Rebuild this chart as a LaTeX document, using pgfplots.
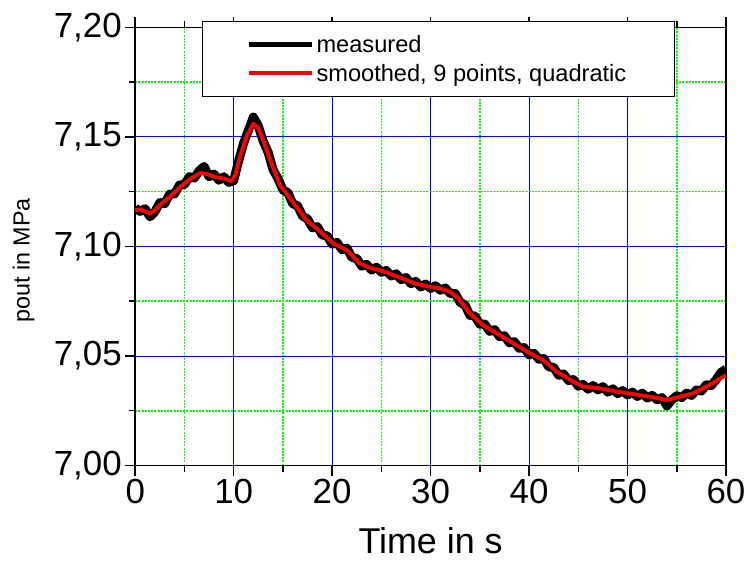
\documentclass[border=0pt]{standalone}
\usepackage{pgfplots}
\pgfplotsset{compat=1.18}
\usepackage{fontspec}
\setmainfont{Liberation Sans}
\definecolor{mygreen}{RGB}{0,255,0}
\begin{document}
\begin{tikzpicture}
\begin{axis}[
  at={(0,0)}, anchor=south west,
  scale only axis, width=590.8bp, height=438.2bp,
  xmin=0, xmax=60, ymin=7.0, ymax=7.2,
  xtick={0,10,...,60}, ytick={7.00,7.05,7.10,7.15,7.20},
  minor x tick num=1, minor y tick num=1,
  xtick pos=both, ytick pos=left,
  tick align=outside,
  major tick length=10bp, minor tick length=6bp,
  axis line style={line width=1.5bp},
  every tick/.style={line width=1.5bp},
  grid=both,
  major grid style={blue, line width=0.8bp, solid},
  minor grid style={mygreen, line width=1.6bp, dash pattern=on 2bp off 1.2bp},
  /pgf/number format/assume math mode=true,
  tick label style={font=\fontsize{35}{40}\selectfont},
  yticklabel style={/pgf/number format/.cd, fixed, fixed zerofill, precision=2, use comma},
  xticklabel style={/pgf/number format/.cd, fixed, precision=0},
  xlabel={Time in s},
  ylabel={pout in MPa},
  every axis x label/.style={at={(axis description cs:0.5,-0.1997)}, anchor=base, font=\fontsize{36}{42}\selectfont},
  every axis y label/.style={at={(axis description cs:-0.189,0.468)}, rotate=90, anchor=center, font=\fontsize{23.4}{28}\selectfont},
  legend style={at={(axis description cs:0.113,1.015)}, anchor=north west,
    draw=black, line width=1.2bp, fill=white,
    font=\fontsize{23.7}{28}\selectfont,
    inner xsep=31bp, inner ysep=12bp, row sep=6bp,
    cells={anchor=west}},
  legend image code/.code={\path (0bp,0bp); \draw[#1] (13bp,0bp) -- (76bp,0bp);},
]
\addplot[black, line width=9bp, line join=round, forget plot] coordinates {
(0.0,7.1175)(0.5,7.1160)(1.0,7.1172)(1.5,7.1135)(2.0,7.1158)(2.5,7.1200)(3.0,7.1195)(3.5,7.1238)
(4.0,7.1240)(4.5,7.1280)(5.0,7.1282)(5.5,7.1318)(6.0,7.1312)(6.5,7.1345)(7.0,7.1365)(7.5,7.1318)
(8.0,7.1330)(8.5,7.1302)(9.0,7.1318)(9.5,7.1292)(10.0,7.1300)(10.5,7.1390)(11.0,7.1470)(11.5,7.1530)
(12.0,7.1590)(12.5,7.1550)(13.0,7.1480)(13.5,7.1430)(14.0,7.1350)(14.5,7.1310)(15.0,7.1258)(15.5,7.1245)
(16.0,7.1195)(16.5,7.1185)(17.0,7.1138)(17.5,7.1125)(18.0,7.1085)(18.5,7.1090)(19.0,7.1052)(19.5,7.1048)
(20.0,7.1010)(20.5,7.1018)(21.0,7.0985)(21.5,7.0992)(22.0,7.0950)(22.5,7.0945)(23.0,7.0910)(23.5,7.0918)
(24.0,7.0892)(24.5,7.0905)(25.0,7.0882)(25.5,7.0890)(26.0,7.0865)(26.5,7.0875)(27.0,7.0848)(27.5,7.0858)
(28.0,7.0830)(28.5,7.0840)(29.0,7.0815)(29.5,7.0828)(30.0,7.0808)(30.5,7.0820)(31.0,7.0800)(31.5,7.0810)
(32.0,7.0785)(32.5,7.0785)(33.0,7.0745)(33.5,7.0732)(34.0,7.0685)(34.5,7.0682)(35.0,7.0645)(35.5,7.0645)
(36.0,7.0612)(36.5,7.0620)(37.0,7.0588)(37.5,7.0592)(38.0,7.0560)(38.5,7.0565)(39.0,7.0535)(39.5,7.0538)
(40.0,7.0505)(40.5,7.0512)(41.0,7.0485)(41.5,7.0488)(42.0,7.0450)(42.5,7.0448)(43.0,7.0412)(43.5,7.0418)
(44.0,7.0388)(44.5,7.0392)(45.0,7.0362)(45.5,7.0370)(46.0,7.0348)(46.5,7.0365)(47.0,7.0345)(47.5,7.0360)
(48.0,7.0335)(48.5,7.0350)(49.0,7.0328)(49.5,7.0342)(50.0,7.0322)(50.5,7.0335)(51.0,7.0315)(51.5,7.0330)
(52.0,7.0308)(52.5,7.0320)(53.0,7.0300)(53.5,7.0310)(54.0,7.0272)(54.5,7.0300)(55.0,7.0318)(55.5,7.0310)
(56.0,7.0330)(56.5,7.0320)(57.0,7.0345)(57.5,7.0340)(58.0,7.0368)(58.5,7.0365)(59.0,7.0392)(59.5,7.0425)
(60.0,7.0440)
};
\addlegendimage{black, line width=5bp}
\addlegendentry{measured}
\addplot[red, line width=3.8bp, line join=round] coordinates {
(0,7.1165)(0.5,7.1170)(1.0,7.1160)(1.5,7.1150)(2.0,7.1165)(2.85,7.1203)(3.5,7.1225)(4.55,7.1270)
(5.5,7.1305)(6.6,7.1335)(7.3,7.1330)(8.27,7.1315)(9.0,7.1310)(9.8,7.1298)(10.2,7.1330)(10.64,7.1409)
(11.3,7.1500)(12.0,7.1560)(12.5,7.1540)(13.0,7.1485)(13.5,7.1420)(14.0,7.1360)(14.7,7.1280)(15.3,7.1245)
(16.05,7.1200)(17.4,7.1120)(18.8,7.1067)(20.1,7.1014)(21.5,7.0983)(22.8,7.0922)(24.0,7.0900)(24.85,7.0892)
(26.9,7.0858)(28.4,7.0831)(29.9,7.0816)(31.0,7.0808)(31.96,7.0793)(32.8,7.0763)(34.0,7.0694)(35.3,7.0641)
(37.0,7.0596)(38.7,7.0550)(40.1,7.0512)(41.4,7.0482)(42.8,7.0428)(44.5,7.0383)(45.5,7.0360)(47.2,7.0352)
(48.9,7.0337)(50.6,7.0326)(52.3,7.0314)(54.0,7.0299)(55.3,7.0314)(56.7,7.0330)(58.0,7.0360)(59.0,7.0385)
(60.0,7.0413)
};
\addlegendentry{smoothed, 9 points, quadratic\rule{15bp}{0bp}}
\end{axis}
\path (-135.2bp,-95.5bp) rectangle (613.8bp,465.5bp);
\end{tikzpicture}
\end{document}
